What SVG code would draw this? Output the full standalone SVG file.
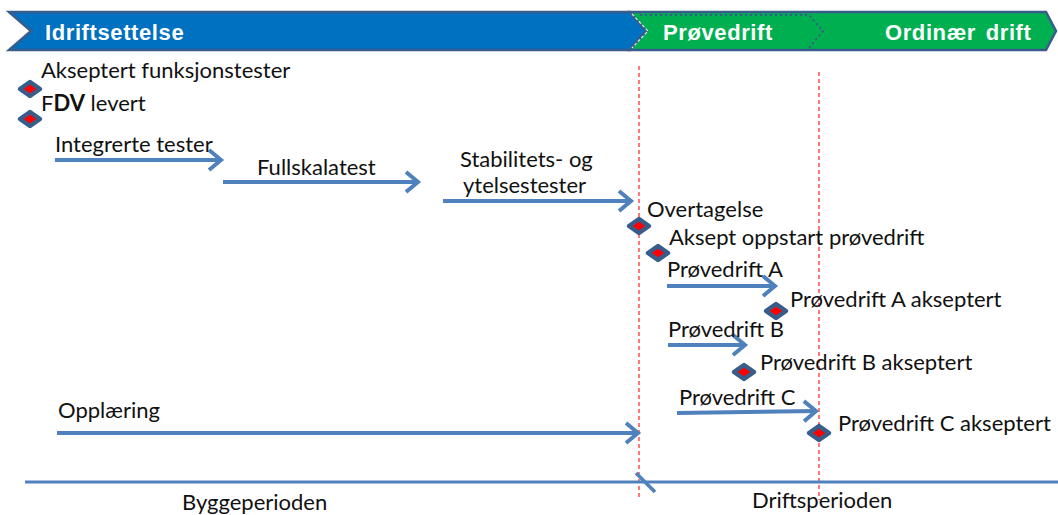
<svg xmlns="http://www.w3.org/2000/svg" width="1058" height="515" viewBox="0 0 1058 515">
  <style>
    .lbl { font-family: Lato, "Open Sans", sans-serif; font-size: 22px; fill: #111; }
    .ban { font-family: "Liberation Sans", Arial, sans-serif; font-weight: bold; font-size: 22px; fill: #fff; letter-spacing: 0.6px; }
    .arr { stroke: #4F81BD; stroke-width: 4; fill: none; marker-end: url(#head); }
    .ms { fill: #FF0000; stroke: #385D8A; stroke-width: 4.5; stroke-linejoin: round; }
    .guide { stroke: #FF3333; stroke-width: 1.3; stroke-dasharray: 4 3; fill: none; }
  </style>
  <defs>
    <marker id="head" markerUnits="userSpaceOnUse" viewBox="-16 -13 20 26" refX="0" refY="0" markerWidth="20" markerHeight="26" orient="auto">
      <path d="M-12,-10 L0,0 L-12,10" fill="none" stroke="#4F81BD" stroke-width="4"/>
    </marker>
    <polygon id="diamond" points="-10,0 0,-7 10,0 0,7"/>
  </defs>

  <rect width="1058" height="515" fill="#fff"/>

  <!-- phase banner -->
  <g id="phase-idriftsettelse">
    <polygon points="9,12 630,12 646,31 630,50 9,50 31,31" fill="#0070C0" stroke="#385D8A" stroke-width="2.5"/>
    <text class="ban" x="45" y="40">Idriftsettelse</text>
  </g>
  <g id="phase-drift">
    <polygon points="630,12 1046,12 1056,31 1046,50 630,50 646,31" fill="#00B050" stroke="#385D8A" stroke-width="2.5"/>
    <polyline points="632,14 648,31 632,48" fill="none" stroke="#dfe8f2" stroke-width="1.2" stroke-dasharray="3 2"/>
    <polyline points="640,15 809,15 823,31 809,48" fill="none" stroke="#385D8A" stroke-width="2" stroke-dasharray="2 3"/>
    <text class="ban" x="663" y="40">Prøvedrift</text>
    <text class="ban" x="885" y="40" word-spacing="3">Ordinær drift</text>
  </g>

  <!-- period boundaries -->
  <g id="guides">
    <line class="guide" x1="639" y1="66" x2="639" y2="497"/>
    <line class="guide" x1="819" y1="72" x2="819" y2="500"/>
  </g>

  <!-- timeline axis -->
  <g id="axis">
    <line x1="25" y1="482" x2="1058" y2="482" stroke="#4F81BD" stroke-width="3"/>
    <line x1="636" y1="473" x2="655" y2="492" stroke="#4F81BD" stroke-width="3.5"/>
    <text class="lbl" x="182" y="510">Byggeperioden</text>
    <text class="lbl" x="752" y="508">Driftsperioden</text>
  </g>

  <!-- activity arrows -->
  <g id="connectors">
    <line class="arr" x1="55" y1="160" x2="221" y2="160"/>
    <line class="arr" x1="223" y1="182" x2="418" y2="182"/>
    <line class="arr" x1="443" y1="201" x2="631" y2="201"/>
    <line class="arr" x1="667" y1="286" x2="775" y2="286"/>
    <line class="arr" x1="668" y1="345" x2="745" y2="345"/>
    <line class="arr" x1="677" y1="413" x2="816" y2="411"/>
    <line class="arr" x1="57" y1="433" x2="638" y2="433"/>
  </g>

  <!-- activities -->
  <g id="integrerte-tester"><text class="lbl" x="55" y="152">Integrerte tester</text></g>
  <g id="fullskalatest"><text class="lbl" x="257" y="175">Fullskalatest</text></g>
  <g id="stabilitetstester">
    <text class="lbl" x="460" y="167">Stabilitets- og</text>
    <text class="lbl" x="463" y="193">ytelsestester</text>
  </g>
  <g id="provedrift-a"><text class="lbl" x="667" y="277">Prøvedrift A</text></g>
  <g id="provedrift-b"><text class="lbl" x="668" y="337">Prøvedrift B</text></g>
  <g id="provedrift-c"><text class="lbl" x="679" y="405">Prøvedrift C</text></g>
  <g id="opplaering"><text class="lbl" x="58" y="418">Opplæring</text></g>

  <!-- milestones -->
  <g id="akseptert-funksjonstester">
    <use href="#diamond" class="ms" x="30" y="89"/>
    <text class="lbl" x="41" y="78">Akseptert funksjonstester</text>
  </g>
  <g id="fdv-levert">
    <use href="#diamond" class="ms" x="30" y="119"/>
    <text class="lbl" x="41" y="111">F<tspan font-weight="bold">DV</tspan> levert</text>
  </g>
  <g id="overtagelse">
    <use href="#diamond" class="ms" x="639" y="226"/>
    <text class="lbl" x="647" y="217">Overtagelse</text>
  </g>
  <g id="aksept-oppstart">
    <use href="#diamond" class="ms" x="658" y="253"/>
    <text class="lbl" x="669" y="245">Aksept oppstart prøvedrift</text>
  </g>
  <g id="provedrift-a-akseptert">
    <use href="#diamond" class="ms" x="776" y="311"/>
    <text class="lbl" x="790" y="307">Prøvedrift A akseptert</text>
  </g>
  <g id="provedrift-b-akseptert">
    <use href="#diamond" class="ms" x="744" y="372"/>
    <text class="lbl" x="760" y="370">Prøvedrift B akseptert</text>
  </g>
  <g id="provedrift-c-akseptert">
    <use href="#diamond" class="ms" x="819" y="433"/>
    <text class="lbl" x="838" y="431">Prøvedrift C akseptert</text>
  </g>
</svg>
